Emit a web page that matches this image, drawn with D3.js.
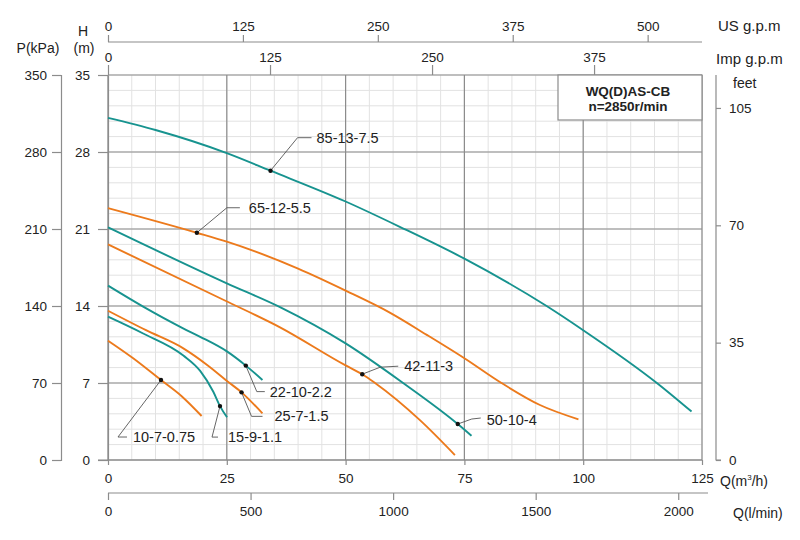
<!DOCTYPE html>
<html><head><meta charset="utf-8">
<script src="https://cdn.jsdelivr.net/npm/d3@7"></script>
<style>body{margin:0;background:#fff}svg{display:block}text{font-family:"Liberation Sans",Arial,sans-serif;fill:#222}</style>
</head><body>
<svg id="c" width="800" height="540"></svg>
<script>
// ---- data (Q in m3/h, H in m) ----
const q85 = [0, 10, 25, 34.2, 50, 61.4, 75, 92.3, 100, 115.5, 122.8];
const h85 = [31.1, 30.0, 27.9, 26.3, 23.5, 21.2, 18.3, 14.0, 11.8, 7.0, 4.4];
const q65 = [0, 18.7, 25, 40, 50, 59.3, 67, 75, 82.8, 90.9, 99];
const h65 = [22.9, 20.66, 19.85, 17.4, 15.4, 13.4, 11.4, 9.25, 7.0, 5.0, 3.7];
const q50 = [0, 25, 36.2, 50, 62.1, 73.6, 76.5];
const h50 = [21.15, 16.06, 13.9, 10.6, 7.0, 3.27, 2.2];
const q42 = [0, 24.6, 36.2, 50, 53.5, 56.2, 65.7, 73];
const h42 = [19.6, 14.5, 12.06, 8.6, 7.8, 7.0, 3.6, 0.45];
const q22 = [0, 7.4, 15.8, 19.4, 25.1, 29, 32.5];
const h22 = [15.85, 13.94, 11.97, 11.2, 9.85, 8.58, 7.27];
const q25 = [0, 8, 15.85, 21, 25.3, 28.1, 32.5];
const h25 = [13.57, 11.8, 10.15, 8.6, 7.1, 6.15, 4.24];
const q15 = [0, 7.4, 15.85, 19.4, 22.16, 23.57, 25.05];
const h15 = [13.03, 11.5, 9.5, 8.1, 6.2, 4.9, 3.88];
const q10 = [0, 5.3, 11.15, 15.5, 19.7];
const h10 = [10.85, 9.25, 7.27, 5.8, 4.0];

const seriesNames = ["85-13-7.5","65-12-5.5","50-10-4","42-11-3","22-10-2.2","25-7-1.5","15-9-1.1","10-7-0.75"];
const seriesColor = ["teal","orange","teal","orange","teal","orange","teal","orange"];
const seriesQ = [q85,q65,q50,q42,q22,q25,q15,q10];
const seriesH = [h85,h65,h50,h42,h22,h25,h15,h10];
// marked duty points [Q, H]
const markQ = [34.2, 18.7, 73.6, 53.5, 29, 28.1, 23.57, 11.15];
const markH = [26.3, 20.66, 3.27, 7.8, 8.58, 6.15, 4.9, 7.27];

const hTicks = [0,7,14,21,28,35];
const pTicks = [0,70,140,210,280,350];
const feetTicks = [0,35,70,105];
const qTicks = [0,25,50,75,100,125];
const lminTicks = [0,500,1000,1500,2000];
const usTicks = [0,125,250,375,500];
const impTicks = [0,125,250,375];
const titleLines = ["WQ(D)AS-CB","n=2850r/min"];

// ---- layout ----
const colors = {teal:"#17938f", orange:"#ec7a1c"};
const L=108, R=702, T=75, B=460;
const svg = d3.select("#c");
const x = d3.scaleLinear().domain([0,125]).range([L,R]);
const y = d3.scaleLinear().domain([0,35]).range([B,T]);
const xUS = d3.scaleLinear().domain([0,125/0.2271247]).range([L,R]);
const xImp = d3.scaleLinear().domain([0,125/0.2727655]).range([L,R]);
const xL = d3.scaleLinear().domain([0,125*1000/60]).range([L,R]);
const yP = d3.scaleLinear().domain([0,350]).range([B,T]);
const yF = d3.scaleLinear().domain([0,35/0.3048]).range([B,T]);
const fmt = d3.format("d");

// minor grid
const g = svg.append("g");
const minorX = d3.range(0,125.01,5), minorY = d3.range(0,35.01,1.4);
g.selectAll(".mx").data(minorX).join("line").attr("x1",d=>x(d)).attr("x2",d=>x(d)).attr("y1",T).attr("y2",B).attr("stroke","#e2e2e2").attr("stroke-width",1);
g.selectAll(".my").data(minorY).join("line").attr("y1",d=>y(d)).attr("y2",d=>y(d)).attr("x1",L).attr("x2",R).attr("stroke","#e2e2e2").attr("stroke-width",1);
// major grid
g.selectAll(".Mx").data(qTicks).join("line").attr("x1",d=>x(d)).attr("x2",d=>x(d)).attr("y1",T).attr("y2",B).attr("stroke","#8c8c8c").attr("stroke-width",1.2);
g.selectAll(".My").data(hTicks).join("line").attr("y1",d=>y(d)).attr("y2",d=>y(d)).attr("x1",L).attr("x2",R).attr("stroke","#8c8c8c").attr("stroke-width",1.2);

// legend box
const bx = svg.append("g");
bx.append("rect").attr("x",558).attr("y",T).attr("width",R-558).attr("height",45).attr("fill","#fff").attr("stroke","#8c8c8c").attr("stroke-width",1.2);
bx.selectAll("text").data(titleLines).join("text").attr("x",628).attr("y",(d,i)=>96+i*15).attr("text-anchor","middle").attr("font-size",13.5).attr("font-weight","bold").text(d=>d);

// axes
function styleAxis(sel){ sel.attr("font-family",null).attr("font-size",null); sel.selectAll("path").attr("stroke","#8c8c8c").attr("stroke-width",1.2); sel.selectAll("line").attr("stroke","#8c8c8c").attr("stroke-width",1.2); sel.selectAll("text").attr("font-size",13.5).attr("fill","#222");}
styleAxis(svg.append("g").attr("transform",`translate(${L},0)`).call(d3.axisLeft(y).tickValues(hTicks).tickFormat(fmt).tickSize(10).tickSizeOuter(0).tickPadding(8)));
styleAxis(svg.append("g").attr("transform","translate(61,0)").call(d3.axisLeft(yP).tickValues(pTicks).tickFormat(fmt).tickSize(9).tickPadding(5)));
styleAxis(svg.append("g").attr("transform","translate(716,0)").call(d3.axisRight(yF).tickValues(feetTicks).tickFormat(fmt).tickSize(5).tickSizeOuter(0).tickPadding(8)).call(s=>s.select("path").attr("d",`M5,${yF(0)}H0V${T}`)));
styleAxis(svg.append("g").attr("transform",`translate(0,${B})`).call(d3.axisBottom(x).tickValues(qTicks).tickFormat(fmt).tickSize(5).tickSizeOuter(0).tickPadding(8)).call(s=>s.select("path").attr("d",`M98,0H${R}`)));
styleAxis(svg.append("g").attr("transform","translate(0,493)").call(d3.axisBottom(xL).tickValues(lminTicks).tickFormat(fmt).tickSize(7).tickSizeOuter(0).tickPadding(6)).call(s=>s.select("path").attr("d",`M${L},0H708`)));
styleAxis(svg.append("g").attr("transform","translate(0,42)").call(d3.axisTop(xUS).tickValues(usTicks).tickFormat(fmt).tickSize(7).tickSizeOuter(0).tickPadding(4)).call(s=>s.select("path").attr("d",`M${L},0H${R}`)));
styleAxis(svg.append("g").attr("transform",`translate(0,${T})`).call(d3.axisTop(xImp).tickValues(impTicks).tickFormat(fmt).tickSize(10).tickSizeOuter(0).tickPadding(3)).call(s=>s.select("path").remove()));

// axis titles
const tt = svg.append("g").attr("font-size",14);
tt.append("text").attr("x",83).attr("y",36).attr("text-anchor","middle").text("H");
tt.append("text").attr("x",84).attr("y",53).attr("text-anchor","middle").text("(m)");
tt.append("text").attr("x",38).attr("y",53).attr("text-anchor","middle").text("P(kPa)");
tt.append("text").attr("x",718).attr("y",31).attr("font-size",15).text("US g.p.m");
tt.append("text").attr("x",716).attr("y",64).attr("font-size",15).text("Imp g.p.m");
tt.append("text").attr("x",733).attr("y",88).text("feet");
const qm = tt.append("text").attr("x",720).attr("y",486);
qm.append("tspan").text("Q(m");
qm.append("tspan").attr("font-size",8).attr("dy",-6).text("3");
qm.append("tspan").attr("dy",6).text("/h)");
tt.append("text").attr("x",733).attr("y",518).text("Q(l/min)");

// curves
const line = d3.line().x(d=>x(d[0])).y(d=>y(d[1])).curve(d3.curveMonotoneX);
const cg = svg.append("g");
seriesNames.forEach((n,i)=>{
  const pts = seriesQ[i].map((q,j)=>[q,seriesH[i][j]]);
  cg.append("path").attr("d",line(pts)).attr("fill","none").attr("stroke",colors[seriesColor[i]]).attr("stroke-width",1.9);
});

// labels with leader lines (pixel offsets from the marked point)
const lead = [
  {e:[27,-33], f:[41,-33], t:[46,-33]},
  {e:[30,-25], f:[43,-25], t:[52,-25]},
  {e:[14,-5],  f:[23,-6],  t:[29,-4]},
  {e:[18,-7],  f:[36,-8],  t:[42,-8]},
  {e:[11,26],  f:[19,26],  t:[24,26]},
  {e:[10,24],  f:[21,24],  t:[33,24]},
  {e:[-8,31],  f:[-2,31],  t:[8,31]},
  {e:[-43,57], f:[-34,57], t:[-28,57]}
];
const lg = svg.append("g");
seriesNames.forEach((n,i)=>{
  const px = x(markQ[i]), py = y(markH[i]), o = lead[i];
  lg.append("polyline").attr("points",`${px},${py} ${px+o.e[0]},${py+o.e[1]} ${px+o.f[0]},${py+o.f[1]}`).attr("fill","none").attr("stroke","#555").attr("stroke-width",0.9);
  lg.append("circle").attr("cx",px).attr("cy",py).attr("r",2.2).attr("fill","#111");
  lg.append("text").attr("x",px+o.t[0]).attr("y",py+o.t[1]).attr("dy","0.35em").attr("font-size",14.5).text(n);
});
</script>
</body></html>
